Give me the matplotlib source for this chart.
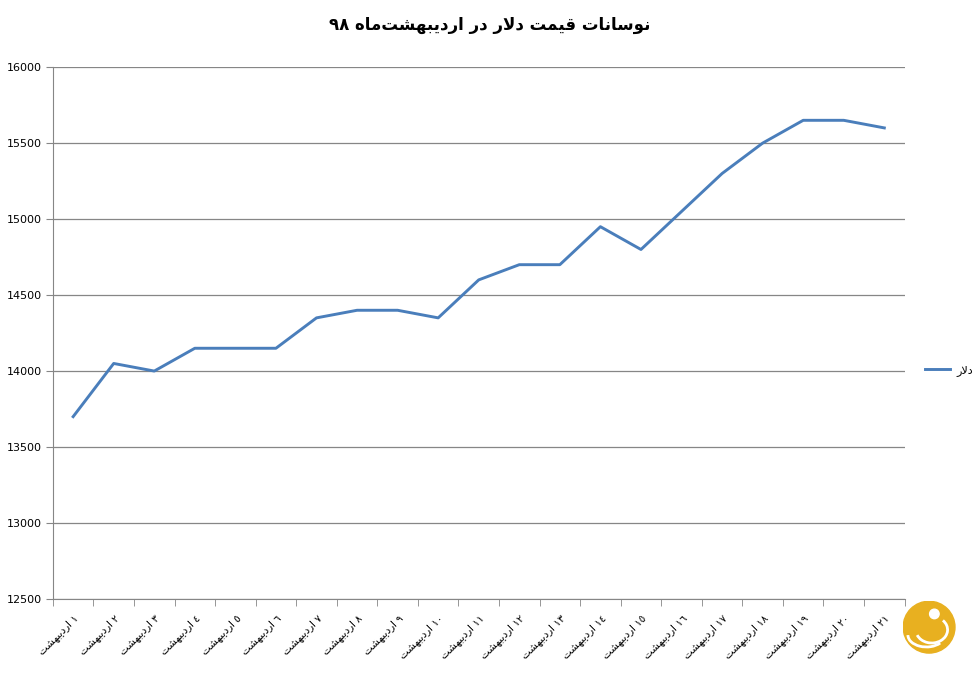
"""نوسانات قیمت دلار در اردیبهشت ماه ۹۸"""
import matplotlib
matplotlib.use('Agg')
import matplotlib.pyplot as plt
from matplotlib.patches import Circle, Arc

days = list(range(1, 22))
prices = [13700, 14050, 14000, 14150, 14150, 14150, 14350, 14400, 14400, 14350,
          14600, 14700, 14700, 14950, 14800, 15050, 15300, 15500, 15650, 15650,
          15600]
month = 'اردیبهشت'
title = 'نوسانات قیمت دلار در اردیبهشت\u200cماه ۹۸'
series_name = 'دلار'

# presentation forms: isolated, final, initial, medial
FORMS = {
    'ا': ('\uFE8D', '\uFE8E', None, None),
    'ب': ('\uFE8F', '\uFE90', '\uFE91', '\uFE92'),
    'ت': ('\uFE95', '\uFE96', '\uFE97', '\uFE98'),
    'د': ('\uFEA9', '\uFEAA', None, None),
    'ر': ('\uFEAD', '\uFEAE', None, None),
    'س': ('\uFEB1', '\uFEB2', '\uFEB3', '\uFEB4'),
    'ش': ('\uFEB5', '\uFEB6', '\uFEB7', '\uFEB8'),
    'ق': ('\uFED5', '\uFED6', '\uFED7', '\uFED8'),
    'ل': ('\uFEDD', '\uFEDE', '\uFEDF', '\uFEE0'),
    'م': ('\uFEE1', '\uFEE2', '\uFEE3', '\uFEE4'),
    'ن': ('\uFEE5', '\uFEE6', '\uFEE7', '\uFEE8'),
    'ه': ('\uFEE9', '\uFEEA', '\uFEEB', '\uFEEC'),
    'و': ('\uFEED', '\uFEEE', None, None),
    'ی': ('\uFBFC', '\uFBFD', '\uFEF3', '\uFEF4'),
}
DIGITS = set('0123456789۰۱۲۳۴۵۶۷۸۹٠١٢٣٤٥٦٧٨٩')


def shape(text):
    """اتصال حروف و ترتیب نمایش راست به چپ"""
    out = []
    i = 0
    while i < len(text):
        c = text[i]
        prev = text[i - 1] if i > 0 else None
        join_prev = prev in FORMS and FORMS[prev][2] is not None
        if c == 'ل' and i + 1 < len(text) and text[i + 1] == 'ا':
            out.append('\uFEFC' if join_prev else '\uFEFB')
            i += 2
            continue
        if c not in FORMS:
            if c != '\u200c':
                out.append(c)
            i += 1
            continue
        iso, fin, ini, med = FORMS[c]
        nxt = text[i + 1] if i + 1 < len(text) else None
        join_next = ini is not None and nxt in FORMS
        if join_prev and join_next:
            out.append(med)
        elif join_prev:
            out.append(fin)
        elif join_next:
            out.append(ini)
        else:
            out.append(iso)
        i += 1
    # keep digit runs left to right
    tokens = []
    for ch in out:
        if ch in DIGITS and tokens and tokens[-1][-1] in DIGITS:
            tokens[-1] += ch
        else:
            tokens.append(ch)
    return ''.join(reversed(tokens))


arabic_digits = str.maketrans('0123456789', '٠١٢٣٤٥٦٧٨٩')
labels = [shape(str(d).translate(arabic_digits) + ' ' + month) for d in days]

plt.rcParams['font.family'] = ['DejaVu Sans']
fig = plt.figure(figsize=(9.79, 6.78), dpi=100)
ax = fig.add_axes([0.054, 0.1165, 0.87, 0.7845])

x = list(range(len(days)))
line, = ax.plot(x, prices, color='#4A7EBB', linewidth=2.1, label=shape(series_name))

ax.set_xlim(-0.5, len(days) - 0.5)
ax.set_ylim(12500, 16000)
ax.set_yticks(range(12500, 16001, 500))
ax.tick_params(axis='y', labelsize=8, length=5, color='#868686', pad=3)
ax.grid(axis='y', color='#868686', linewidth=0.9)
ax.set_axisbelow(True)

ax.set_xticks(x)
ax.set_xticklabels(labels, rotation=45, ha='right', va='top',
                   rotation_mode='anchor', fontsize=7.5)
ax.tick_params(axis='x', which='major', length=0, pad=10)
ax.set_xticks([i - 0.5 for i in range(len(days) + 1)], minor=True)
ax.tick_params(axis='x', which='minor', length=5, color='#868686')

for side in ['top', 'right']:
    ax.spines[side].set_visible(False)
for side in ['left', 'bottom']:
    ax.spines[side].set_color('#868686')

fig.text(0.5, 0.963, shape(title), ha='center', va='center',
         fontsize=12, fontweight='bold')

fig.legend(handles=[line], loc='center left', bbox_to_anchor=(0.935, 0.454),
           frameon=False, fontsize=8, handlelength=2.2, handletextpad=0.6)

# logo
lax = fig.add_axes([0.922, 0.036, 0.054, 0.078])
lax.set_xlim(-1, 1)
lax.set_ylim(-1, 1)
lax.axis('off')
lax.add_patch(Circle((0, 0), 0.98, color='#E8B020'))
lax.add_patch(Circle((0.2, 0.5), 0.18, color='white'))
lax.add_patch(Arc((0.1, -0.1), 1.2, 1.0, theta1=200, theta2=40, color='white', lw=2))
lax.add_patch(Arc((-0.1, -0.3), 1.4, 0.9, theta1=180, theta2=330, color='white', lw=2))

fig.savefig('out.png', dpi=100)
